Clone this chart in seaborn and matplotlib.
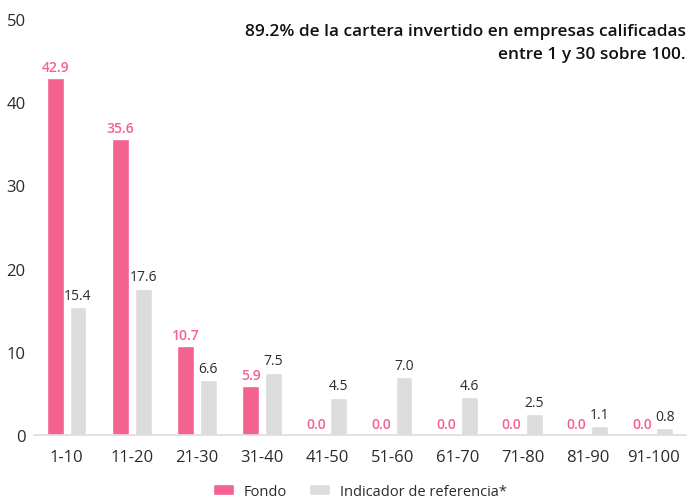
import matplotlib
import matplotlib.pyplot as plt
import pandas as pd
import seaborn as sns

matplotlib.use("Agg", force=True)

categories = ["1-10", "11-20", "21-30", "31-40", "41-50",
              "51-60", "61-70", "71-80", "81-90", "91-100"]
fondo = [42.9, 35.6, 10.7, 5.9, 0.0, 0.0, 0.0, 0.0, 0.0, 0.0]
indicador = [15.4, 17.6, 6.6, 7.5, 4.5, 7.0, 4.6, 2.5, 1.1, 0.8]
series_names = ["Fondo", "Indicador de referencia*"]
y_ticks = [0, 10, 20, 30, 40, 50]

PINK = "#F4628F"
GREY = "#DCDCDC"
TEXT = "#2b2b2b"

sns.set_theme(style="white")
plt.rcParams["font.family"] = ["Open Sans", "DejaVu Sans"]

df = pd.DataFrame({
    "rango": categories * 2,
    "valor": fondo + indicador,
    "serie": [series_names[0]] * len(categories) + [series_names[1]] * len(categories),
})

fig = plt.figure(figsize=(6.88, 5.02), dpi=100)
ax = fig.add_axes([0.0494, 0.1315, 0.9476, 0.8285])

sns.barplot(data=df, x="rango", y="valor", hue="serie", order=categories,
            hue_order=series_names, palette=[PINK, GREY], width=0.7, gap=0.26,
            saturation=1, ax=ax)

ax.bar_label(ax.containers[0], fmt="%.1f", padding=3, color=PINK,
             fontsize=10, fontweight="semibold")
ax.bar_label(ax.containers[1], fmt="%.1f", padding=3, color=TEXT, fontsize=10)

ax.set_ylim(0, 50)
ax.set_xlim(-0.5, len(categories) - 0.5)
ax.set_yticks(y_ticks)
ax.set_xlabel("")
ax.set_ylabel("")
ax.tick_params(axis="both", length=0, labelsize=12, labelcolor=TEXT)
ax.tick_params(axis="y", pad=6)
ax.tick_params(axis="x", pad=10)
for side in ["top", "right", "left"]:
    ax.spines[side].set_visible(False)
ax.spines["bottom"].set_color("#DDDDDD")
ax.spines["bottom"].set_linewidth(1.2)

handles, labels = ax.get_legend_handles_labels()
ax.legend(handles, labels, loc="center", bbox_to_anchor=(0.5, -0.135),
          ncol=2, frameon=False, fontsize=10.5, handlelength=1.45,
          handleheight=0.7, handletextpad=0.65, columnspacing=1.5,
          labelcolor=TEXT)

fig.text(0.997, 0.952,
         "89.2% de la cartera invertido en empresas calificadas\nentre 1 y 30 sobre 100.",
         ha="right", va="top", fontsize=12.4, fontweight="semibold",
         color="#111111", linespacing=1.55, multialignment="right")

fig.savefig("out.png", dpi=100)
